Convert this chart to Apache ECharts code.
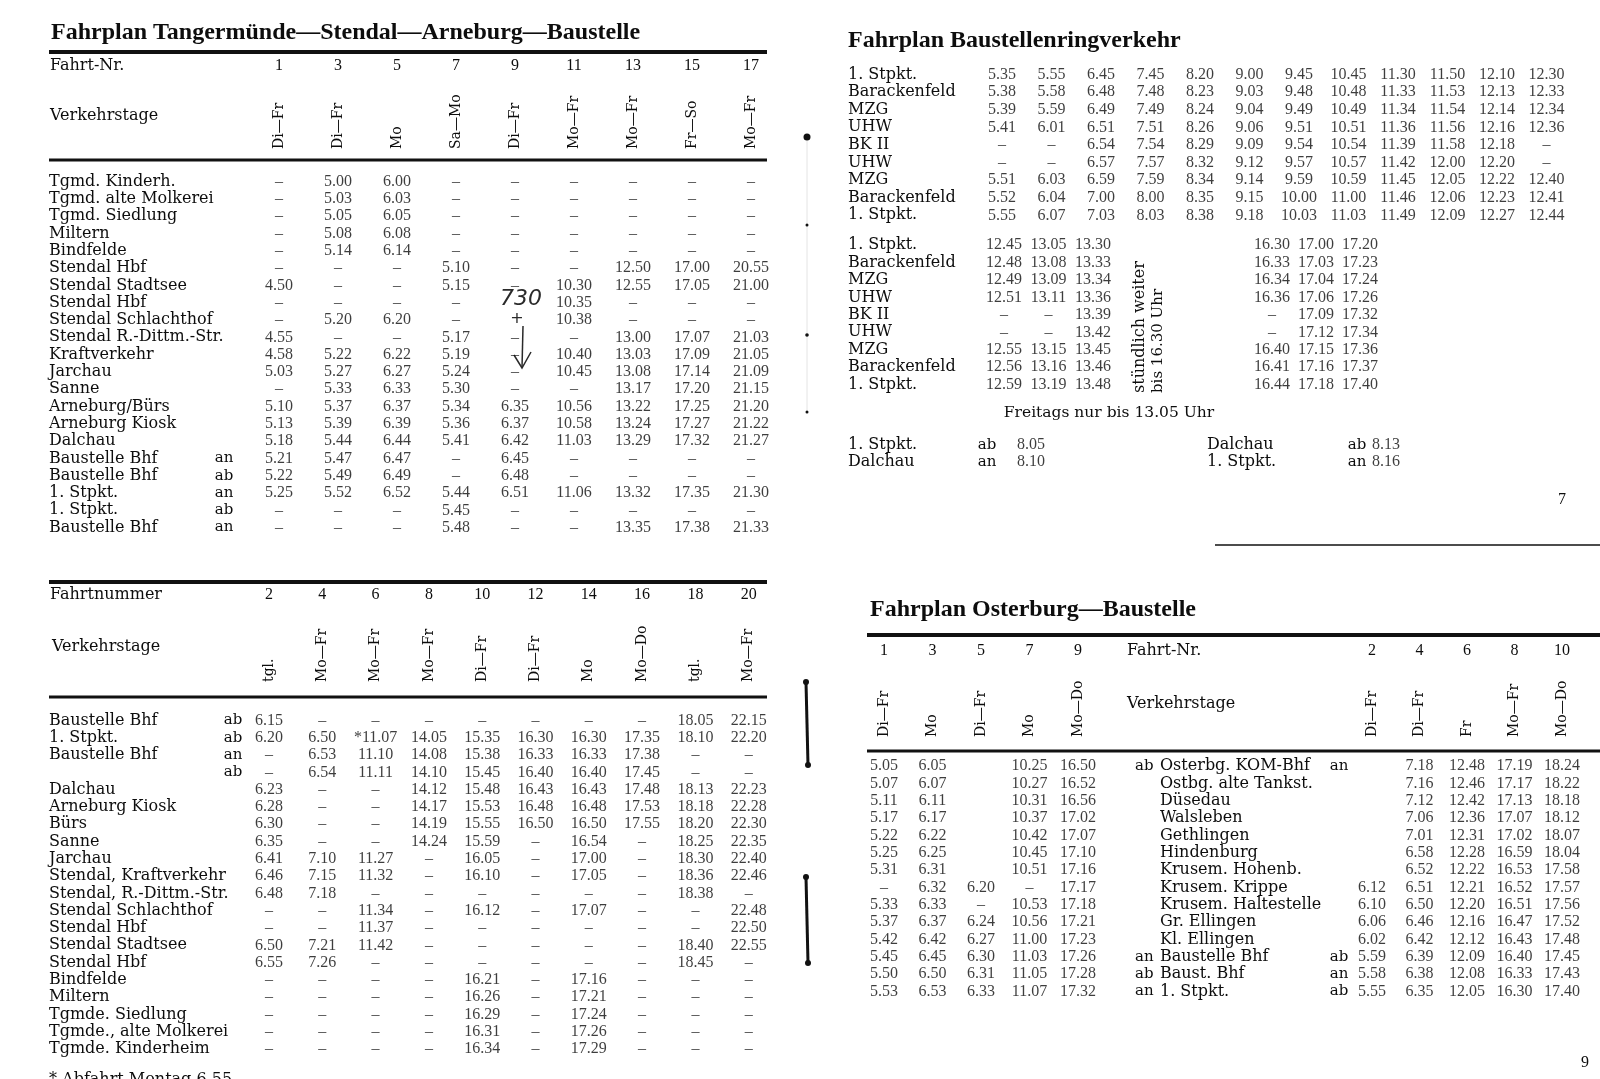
<!DOCTYPE html>
<html><head><meta charset="utf-8">
<script src="https://cdn.jsdelivr.net/npm/echarts@6/dist/echarts.min.js"></script>
<style>html,body{margin:0;padding:0;background:#fff}#c{width:1600px;height:1079px}</style>
</head><body><div id="c"></div><script>
// ---------- DATA ----------
const t1Title = 'Fahrplan Tangermünde—Stendal—Arneburg—Baustelle';
const t1Trips = ['1','3','5','7','9','11','13','15','17'];
const t1Days = ['Di—Fr','Di—Fr','Mo','Sa—Mo','Di—Fr','Mo—Fr','Mo—Fr','Fr—So','Mo—Fr'];
const t1Stations = ['Tgmd. Kinderh.','Tgmd. alte Molkerei','Tgmd. Siedlung','Miltern','Bindfelde','Stendal Hbf','Stendal Stadtsee','Stendal Hbf','Stendal Schlachthof','Stendal R.-Dittm.-Str.','Kraftverkehr','Jarchau','Sanne','Arneburg/Bürs','Arneburg Kiosk','Dalchau','Baustelle Bhf','Baustelle Bhf','1. Stpkt.','1. Stpkt.','Baustelle Bhf'];
const t1Dir = ['','','','','','','','','','','','','','','','','an','ab','an','ab','an'];
const t1Times = [
 ['–','5.00','6.00','–','–','–','–','–','–'],
 ['–','5.03','6.03','–','–','–','–','–','–'],
 ['–','5.05','6.05','–','–','–','–','–','–'],
 ['–','5.08','6.08','–','–','–','–','–','–'],
 ['–','5.14','6.14','–','–','–','–','–','–'],
 ['–','–','–','5.10','–','–','12.50','17.00','20.55'],
 ['4.50','–','–','5.15','–','10.30','12.55','17.05','21.00'],
 ['–','–','–','–','','10.35','–','–','–'],
 ['–','5.20','6.20','–','','10.38','–','–','–'],
 ['4.55','–','–','5.17','–','–','13.00','17.07','21.03'],
 ['4.58','5.22','6.22','5.19','–','10.40','13.03','17.09','21.05'],
 ['5.03','5.27','6.27','5.24','–','10.45','13.08','17.14','21.09'],
 ['–','5.33','6.33','5.30','–','–','13.17','17.20','21.15'],
 ['5.10','5.37','6.37','5.34','6.35','10.56','13.22','17.25','21.20'],
 ['5.13','5.39','6.39','5.36','6.37','10.58','13.24','17.27','21.22'],
 ['5.18','5.44','6.44','5.41','6.42','11.03','13.29','17.32','21.27'],
 ['5.21','5.47','6.47','–','6.45','–','–','–','–'],
 ['5.22','5.49','6.49','–','6.48','–','–','–','–'],
 ['5.25','5.52','6.52','5.44','6.51','11.06','13.32','17.35','21.30'],
 ['–','–','–','5.45','–','–','–','–','–'],
 ['–','–','–','5.48','–','–','13.35','17.38','21.33']
];
const t1Handwriting = ['730', '+'];

const t2Trips = ['2','4','6','8','10','12','14','16','18','20'];
const t2Days = ['tgl.','Mo—Fr','Mo—Fr','Mo—Fr','Di—Fr','Di—Fr','Mo','Mo—Do','tgl.','Mo—Fr'];
const t2Stations = ['Baustelle Bhf','1. Stpkt.','Baustelle Bhf','','Dalchau','Arneburg Kiosk','Bürs','Sanne','Jarchau','Stendal, Kraftverkehr','Stendal, R.-Dittm.-Str.','Stendal Schlachthof','Stendal Hbf','Stendal Stadtsee','Stendal Hbf','Bindfelde','Miltern','Tgmde. Siedlung','Tgmde., alte Molkerei','Tgmde. Kinderheim'];
const t2Dir = ['ab','ab','an','ab','','','','','','','','','','','','','','','',''];
const t2Times = [
 ['6.15','–','–','–','–','–','–','–','18.05','22.15'],
 ['6.20','6.50','*11.07','14.05','15.35','16.30','16.30','17.35','18.10','22.20'],
 ['–','6.53','11.10','14.08','15.38','16.33','16.33','17.38','–','–'],
 ['–','6.54','11.11','14.10','15.45','16.40','16.40','17.45','–','–'],
 ['6.23','–','–','14.12','15.48','16.43','16.43','17.48','18.13','22.23'],
 ['6.28','–','–','14.17','15.53','16.48','16.48','17.53','18.18','22.28'],
 ['6.30','–','–','14.19','15.55','16.50','16.50','17.55','18.20','22.30'],
 ['6.35','–','–','14.24','15.59','–','16.54','–','18.25','22.35'],
 ['6.41','7.10','11.27','–','16.05','–','17.00','–','18.30','22.40'],
 ['6.46','7.15','11.32','–','16.10','–','17.05','–','18.36','22.46'],
 ['6.48','7.18','–','–','–','–','–','–','18.38','–'],
 ['–','–','11.34','–','16.12','–','17.07','–','–','22.48'],
 ['–','–','11.37','–','–','–','–','–','–','22.50'],
 ['6.50','7.21','11.42','–','–','–','–','–','18.40','22.55'],
 ['6.55','7.26','–','–','–','–','–','–','18.45','–'],
 ['–','–','–','–','16.21','–','17.16','–','–','–'],
 ['–','–','–','–','16.26','–','17.21','–','–','–'],
 ['–','–','–','–','16.29','–','17.24','–','–','–'],
 ['–','–','–','–','16.31','–','17.26','–','–','–'],
 ['–','–','–','–','16.34','–','17.29','–','–','–']
];
const t2Footnote = '* Abfahrt Montag 6.55';

const t3Title = 'Fahrplan Baustellenringverkehr';
const t3Stations = ['1. Stpkt.','Barackenfeld','MZG','UHW','BK II','UHW','MZG','Barackenfeld','1. Stpkt.'];
const t3Morning = [
 ['5.35','5.55','6.45','7.45','8.20','9.00','9.45','10.45','11.30','11.50','12.10','12.30'],
 ['5.38','5.58','6.48','7.48','8.23','9.03','9.48','10.48','11.33','11.53','12.13','12.33'],
 ['5.39','5.59','6.49','7.49','8.24','9.04','9.49','10.49','11.34','11.54','12.14','12.34'],
 ['5.41','6.01','6.51','7.51','8.26','9.06','9.51','10.51','11.36','11.56','12.16','12.36'],
 ['–','–','6.54','7.54','8.29','9.09','9.54','10.54','11.39','11.58','12.18','–'],
 ['–','–','6.57','7.57','8.32','9.12','9.57','10.57','11.42','12.00','12.20','–'],
 ['5.51','6.03','6.59','7.59','8.34','9.14','9.59','10.59','11.45','12.05','12.22','12.40'],
 ['5.52','6.04','7.00','8.00','8.35','9.15','10.00','11.00','11.46','12.06','12.23','12.41'],
 ['5.55','6.07','7.03','8.03','8.38','9.18','10.03','11.03','11.49','12.09','12.27','12.44']
];
const t3Noon = [
 ['12.45','13.05','13.30'],['12.48','13.08','13.33'],['12.49','13.09','13.34'],['12.51','13.11','13.36'],
 ['–','–','13.39'],['–','–','13.42'],['12.55','13.15','13.45'],['12.56','13.16','13.46'],['12.59','13.19','13.48']
];
const t3Evening = [
 ['16.30','17.00','17.20'],['16.33','17.03','17.23'],['16.34','17.04','17.24'],['16.36','17.06','17.26'],
 ['–','17.09','17.32'],['–','17.12','17.34'],['16.40','17.15','17.36'],['16.41','17.16','17.37'],['16.44','17.18','17.40']
];
const t3Hourly = ['stündlich weiter', 'bis 16.30 Uhr'];
const t3FridayNote = 'Freitags nur bis 13.05 Uhr';
const t3ExtraAStations = ['1. Stpkt.','Dalchau'];
const t3ExtraADir = ['ab','an'];
const t3ExtraATimes = [['8.05'],['8.10']];
const t3ExtraBStations = ['Dalchau','1. Stpkt.'];
const t3ExtraBDir = ['ab','an'];
const t3ExtraBTimes = [['8.13'],['8.16']];

const t4Title = 'Fahrplan Osterburg—Baustelle';
const t4TripsOut = ['1','3','5','7','9'];
const t4DaysOut = ['Di—Fr','Mo','Di—Fr','Mo','Mo—Do'];
const t4TripsBack = ['2','4','6','8','10'];
const t4DaysBack = ['Di—Fr','Di—Fr','Fr','Mo—Fr','Mo—Do'];
const t4Stations = ['Osterbg. KOM-Bhf','Ostbg. alte Tankst.','Düsedau','Walsleben','Gethlingen','Hindenburg','Krusem. Hohenb.','Krusem. Krippe','Krusem. Haltestelle','Gr. Ellingen','Kl. Ellingen','Baustelle Bhf','Baust. Bhf','1. Stpkt.'];
const t4DirOut = ['ab','','','','','','','','','','','an','ab','an'];
const t4DirBack = ['an','','','','','','','','','','','ab','an','ab'];
const t4TimesOut = [
 ['5.05','6.05','','10.25','16.50'],['5.07','6.07','','10.27','16.52'],['5.11','6.11','','10.31','16.56'],
 ['5.17','6.17','','10.37','17.02'],['5.22','6.22','','10.42','17.07'],['5.25','6.25','','10.45','17.10'],
 ['5.31','6.31','','10.51','17.16'],['–','6.32','6.20','–','17.17'],['5.33','6.33','–','10.53','17.18'],
 ['5.37','6.37','6.24','10.56','17.21'],['5.42','6.42','6.27','11.00','17.23'],['5.45','6.45','6.30','11.03','17.26'],
 ['5.50','6.50','6.31','11.05','17.28'],['5.53','6.53','6.33','11.07','17.32']
];
const t4TimesBack = [
 ['','7.18','12.48','17.19','18.24'],['','7.16','12.46','17.17','18.22'],['','7.12','12.42','17.13','18.18'],
 ['','7.06','12.36','17.07','18.12'],['','7.01','12.31','17.02','18.07'],['','6.58','12.28','16.59','18.04'],
 ['','6.52','12.22','16.53','17.58'],['6.12','6.51','12.21','16.52','17.57'],['6.10','6.50','12.20','16.51','17.56'],
 ['6.06','6.46','12.16','16.47','17.52'],['6.02','6.42','12.12','16.43','17.48'],['5.59','6.39','12.09','16.40','17.45'],
 ['5.58','6.38','12.08','16.33','17.43'],['5.55','6.35','12.05','16.30','17.40']
];
const pageNumbers = ['7', '9'];

// ---------- LAYOUT / RENDER ----------
const FONT_NUM = 'Liberation Serif';
const FONT_TXT = 'DejaVu Serif';
const INK = '#0d0d0d';
const NUM_SIZE = 16;
const TXT_SIZE = 16;
const opt = {animation:false, backgroundColor:'#fff', grid:[], xAxis:[], yAxis:[], series:[], graphic:[]};
const hid = () => ({axisLine:{show:false}, axisTick:{show:false}, splitLine:{show:false}});
const idx = n => Array.from({length:n}, (_, i) => String(i));

function addTable(c) {
  const gi = opt.grid.length;
  const nRows = c.values.length, nCols = c.values[0].length;
  const gl = c.x0 - c.colW / 2, gt = c.y0 - c.rowH / 2;
  opt.grid.push({left:gl, top:gt, width:c.colW*nCols, height:c.rowH*nRows, containLabel:false, outerBoundsMode:'none'});
  const xi = opt.xAxis.length;
  opt.xAxis.push(Object.assign(hid(), {gridIndex:gi, type:'category', position:'top', data:c.trips || idx(nCols),
    axisLabel:{show:!!c.trips, interval:0, margin:gt - (c.tripY||0), verticalAlign:'middle', fontFamily:FONT_NUM, fontSize:NUM_SIZE, color:INK}}));
  if (c.days) opt.xAxis.push(Object.assign(hid(), {gridIndex:gi, type:'category', position:'top', data:c.days,
    axisLabel:{interval:0, rotate:-90, margin:gt - c.dayBottom, fontFamily:FONT_TXT, fontSize:14, color:INK}}));
  const yi = opt.yAxis.length;
  opt.yAxis.push(Object.assign(hid(), {gridIndex:gi, type:'category', position:'left', inverse:true, data:c.names || idx(nRows),
    axisLabel:{show:!!c.names, interval:0, align:'left', margin:gl - (c.nameX||0), fontFamily:FONT_TXT, fontSize:TXT_SIZE, color:INK}}));
  (c.sides || []).forEach(s => opt.yAxis.push(Object.assign(hid(), {gridIndex:gi, type:'category', position:'left', offset:0, inverse:true, data:s.labels,
    axisLabel:{interval:0, align:s.align, margin:gl - s.x, fontFamily:FONT_TXT, fontSize:15, color:INK}})));
  const data = [];
  c.values.forEach((row, ri) => row.forEach((v, ci) => { if (v) data.push({value:[ci, ri], name:v}); }));
  opt.series.push({type:'scatter', xAxisIndex:xi, yAxisIndex:yi, symbolSize:0, silent:true, data,
    label:{show:true, position:'inside', formatter:p => p.name, fontFamily:FONT_NUM, fontSize:NUM_SIZE, color:INK}});
}

// Table 1
addTable({values:t1Times, trips:t1Trips, days:t1Days, names:t1Stations, x0:279, colW:59, y0:181.6, rowH:17.3,
  tripY:66, dayBottom:149, nameX:49, sides:[{labels:t1Dir, align:'center', x:224}]});
// Table 2
addTable({values:t2Times, trips:t2Trips, days:t2Days, names:t2Stations, x0:269, colW:53.3, y0:720.4, rowH:17.3,
  tripY:595, dayBottom:682, nameX:49, sides:[{labels:t2Dir, align:'center', x:233}]});
// Table 3
addTable({values:t3Morning, names:t3Stations, x0:1002, colW:49.5, y0:74.5, rowH:17.6, nameX:848});
addTable({values:t3Noon, names:t3Stations, x0:1004, colW:44.5, y0:245, rowH:17.46, nameX:848});
addTable({values:t3Evening, x0:1272, colW:44, y0:245, rowH:17.46});
addTable({values:t3ExtraATimes, names:t3ExtraAStations, x0:1031, colW:40, y0:445, rowH:17, nameX:848,
  sides:[{labels:t3ExtraADir, align:'center', x:987}]});
addTable({values:t3ExtraBTimes, names:t3ExtraBStations, x0:1386, colW:40, y0:445, rowH:17, nameX:1207,
  sides:[{labels:t3ExtraBDir, align:'center', x:1357}]});
// Table 4
addTable({values:t4TimesOut, trips:t4TripsOut, days:t4DaysOut, x0:884, colW:48.5, y0:766, rowH:17.35, tripY:651, dayBottom:737});
addTable({values:t4TimesBack, trips:t4TripsBack, days:t4DaysBack, names:t4Stations, x0:1372, colW:47.5, y0:766, rowH:17.35,
  tripY:651, dayBottom:737, nameX:1160, sides:[{labels:t4DirOut, align:'left', x:1135}, {labels:t4DirBack, align:'center', x:1339}]});

// graphics: titles, rules, notes
function txt(t, x, y, o) {
  o = o || {};
  opt.graphic.push({type:'text', x, y, rotation:o.rot || 0, silent:true,
    style:{text:t, x:0, y:0, fill:o.color || INK, font:(o.style ? o.style + ' ' : '') + (o.weight||'normal') + ' ' + (o.size||TXT_SIZE) + 'px "' + (o.family||FONT_TXT) + '"',
      align:o.align || 'left', verticalAlign:'middle', textAlign:o.align || 'left', textVerticalAlign:'middle'}});
}
function rule(x1, y, x2, w) {
  opt.graphic.push({type:'line', silent:true, shape:{x1, y1:y, x2, y2:y}, style:{stroke:'#111', lineWidth:w}});
}
txt(t1Title, 51, 33, {weight:'bold', size:24, family:'Liberation Serif'});
txt(t3Title, 848, 41, {weight:'bold', size:24, family:'Liberation Serif'});
txt(t4Title, 870, 610, {weight:'bold', size:24, family:'Liberation Serif'});
rule(49, 52, 767, 4); rule(49, 160, 767, 3);
rule(49, 582, 767, 4); rule(49, 697, 767, 3);
rule(867, 635, 1600, 4); rule(867, 751, 1600, 3);
txt('Fahrt-Nr.', 50, 66); txt('Verkehrstage', 50, 116);
txt('Fahrtnummer', 50, 595); txt('Verkehrstage', 52, 647);
txt('Fahrt-Nr.', 1127, 651); txt('Verkehrstage', 1127, 704);
txt(t3Hourly[0], 1140, 393, {rot:Math.PI/2, size:16});
txt(t3Hourly[1], 1158, 393, {rot:Math.PI/2, size:15});
txt(t3FridayNote, 1109, 413, {align:'center', size:15.5});
txt(t2Footnote, 49, 1080);
txt(pageNumbers[0], 1562, 500, {align:'center', family:FONT_NUM, size:16});
txt(pageNumbers[1], 1585, 1063, {align:'center', family:FONT_NUM, size:16});
// handwriting annotation
txt(t1Handwriting[0], 521, 299, {align:'center', size:22, family:'DejaVu Sans', style:'italic', color:'#2a2a2a'});
txt(t1Handwriting[1], 517, 319, {align:'center', size:16, family:'DejaVu Sans', color:'#2a2a2a'});
opt.graphic.push({type:'polyline', silent:true, shape:{points:[[523,326],[522,368]]}, style:{stroke:'#2a2a2a', lineWidth:1.5, fill:null}});
opt.graphic.push({type:'polyline', silent:true, shape:{points:[[514,355],[522,368],[531,352]]}, style:{stroke:'#2a2a2a', lineWidth:1.5, fill:null}});
// scan marks
rule(1215, 545, 1600, 1.5);
opt.graphic.push({type:'line', silent:true, shape:{x1:807,y1:137,x2:807,y2:412}, style:{stroke:'#ddd', lineWidth:0.8}});
[[807,137,3.5],[807,225,1.5],[807,335,1.8],[807,412,1.5]].forEach(p => opt.graphic.push({type:'circle', silent:true, shape:{cx:p[0], cy:p[1], r:p[2]}, style:{fill:'#111'}}));
[[682,765],[877,963]].forEach(s => {
  opt.graphic.push({type:'line', silent:true, shape:{x1:806,y1:s[0],x2:808,y2:s[1]}, style:{stroke:'#111', lineWidth:3}});
  opt.graphic.push({type:'circle', silent:true, shape:{cx:806, cy:s[0], r:3}, style:{fill:'#111'}});
  opt.graphic.push({type:'circle', silent:true, shape:{cx:808, cy:s[1], r:3}, style:{fill:'#111'}});
});

const chart = echarts.init(document.getElementById('c'), null, {renderer:'canvas'});
chart.setOption(opt);
</script></body></html>
